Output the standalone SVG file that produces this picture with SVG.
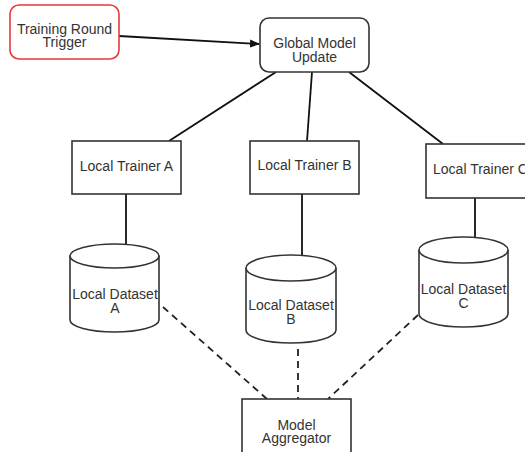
<svg xmlns="http://www.w3.org/2000/svg" width="525" height="452" viewBox="0 0 525 452">
<style>
.box{fill:#fff;stroke:#333;stroke-width:1.6}
.trig{fill:#fff;stroke:#e8383d;stroke-width:1.6}
.cyl{fill:#fff;stroke:#333;stroke-width:1.6}
.t{font-family:"Liberation Sans",Arial,sans-serif;font-size:14px;fill:#333;text-anchor:middle}
.c{fill:none;stroke:#111;stroke-width:1.8}
.d{fill:none;stroke:#222;stroke-width:1.8;stroke-dasharray:7 5}
</style>
<defs>
<marker id="ah" markerWidth="10" markerHeight="8" refX="9" refY="4" orient="auto" markerUnits="userSpaceOnUse"><path d="M0,0 L10,4 L0,8 Z" fill="#111"/></marker>
</defs>
<g id="connectors">
<line class="c" x1="119" y1="36" x2="259" y2="44" marker-end="url(#ah)"/>
<line class="c" x1="276" y1="72" x2="169" y2="141"/>
<line class="c" x1="312" y1="72" x2="307" y2="141"/>
<line class="c" x1="349" y1="72" x2="443" y2="144"/>
<line class="c" x1="126" y1="194" x2="126" y2="244"/>
<line class="c" x1="302" y1="194" x2="302" y2="255"/>
<line class="c" x1="475" y1="198" x2="475" y2="237"/>
<line class="d" x1="163" y1="307" x2="267" y2="399"/>
<line class="d" x1="298" y1="349" x2="298" y2="399"/>
<line class="d" x1="418" y1="315" x2="328" y2="399"/>
</g>
<g id="trigger">
<rect class="trig" x="10" y="5" width="109" height="54" rx="9"/>
<text class="t" x="64.5" y="34">Training Round</text>
<text class="t" x="64.5" y="47">Trigger</text>
</g>
<g id="global">
<rect class="box" x="260" y="18" width="109" height="54" rx="9"/>
<text class="t" x="314.5" y="48">Global Model</text>
<text class="t" x="314.5" y="62">Update</text>
</g>
<g id="trainerA">
<rect class="box" x="72" y="141" width="109" height="53"/>
<text class="t" x="126.5" y="171">Local Trainer A</text>
</g>
<g id="trainerB">
<rect class="box" x="250" y="141" width="109" height="53"/>
<text class="t" x="304.5" y="170">Local Trainer B</text>
</g>
<g id="trainerC">
<rect class="box" x="426" y="144" width="109" height="54"/>
<text class="t" x="480.5" y="174">Local Trainer C</text>
</g>
<g id="datasetA">
<path class="cyl" d="M70,256 A44.5,12 0 0 1 159,256 L159,320 A44.5,12 0 0 1 70,320 Z"/>
<path class="cyl" fill="none" d="M70,256 A44.5,12 0 0 0 159,256"/>
<text class="t" x="115" y="299">Local Dataset</text>
<text class="t" x="115" y="313">A</text>
</g>
<g id="datasetB">
<path class="cyl" d="M246,268 A45,13 0 0 1 336,268 L336,330 A45,13 0 0 1 246,330 Z"/>
<path class="cyl" fill="none" d="M246,268 A45,13 0 0 0 336,268"/>
<text class="t" x="291" y="310">Local Dataset</text>
<text class="t" x="291" y="324">B</text>
</g>
<g id="datasetC">
<path class="cyl" d="M419,250 A44.5,13 0 0 1 508,250 L508,314 A44.5,13 0 0 1 419,314 Z"/>
<path class="cyl" fill="none" d="M419,250 A44.5,13 0 0 0 508,250"/>
<text class="t" x="463.5" y="294">Local Dataset</text>
<text class="t" x="463.5" y="308">C</text>
</g>
<g id="aggregator">
<rect class="box" x="242" y="399" width="109" height="60"/>
<text class="t" x="296.5" y="430">Model</text>
<text class="t" x="296.5" y="443">Aggregator</text>
</g>
</svg>
